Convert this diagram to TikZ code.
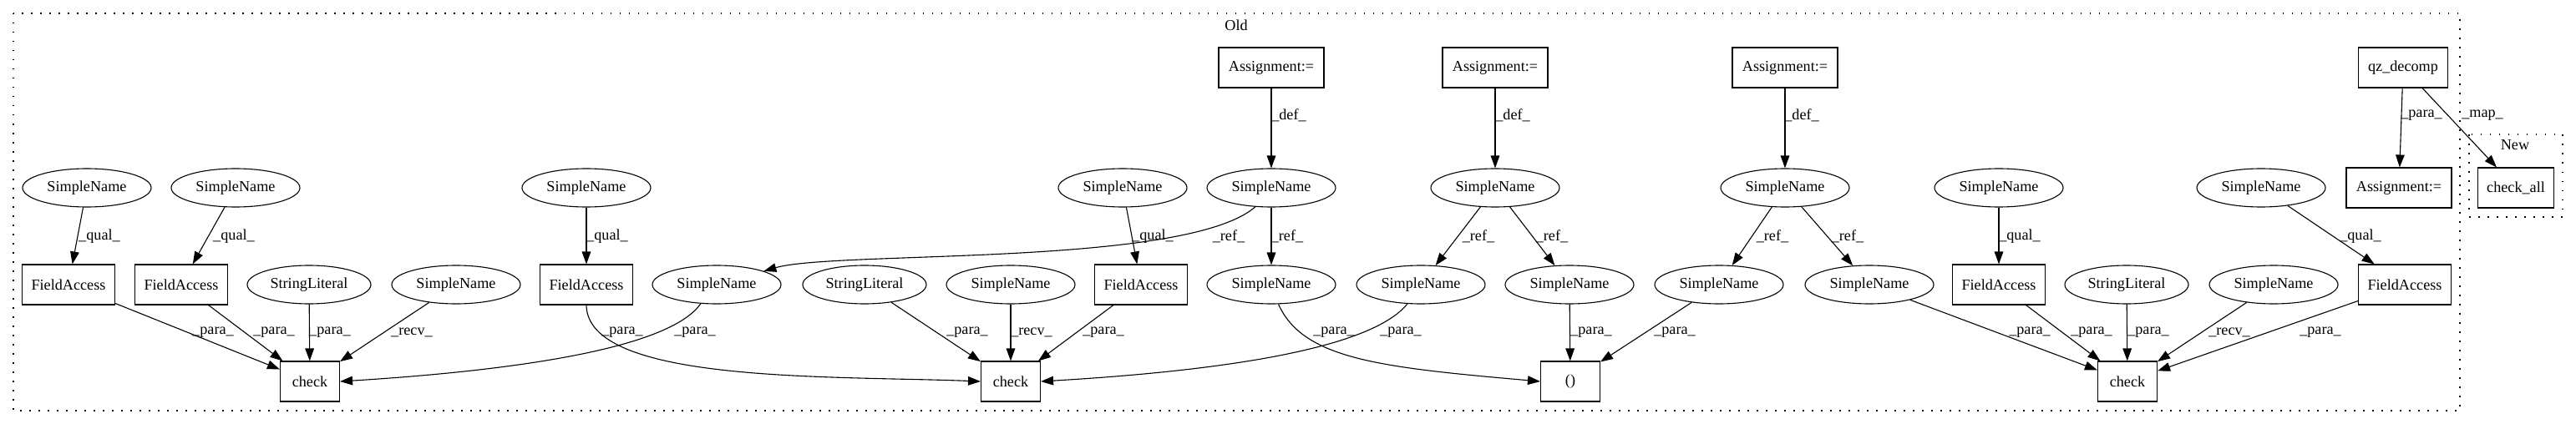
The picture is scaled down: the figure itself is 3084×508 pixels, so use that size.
\documentclass[tikz,border=0pt]{standalone}
\usepackage{fontspec}
\setmainfont{Liberation Serif}
\usetikzlibrary{shapes.geometric,arrows.meta}
\begin{document}
\begin{tikzpicture}[x=0.5pt,y=-0.5pt,
  every node/.style={font=\fontsize{9.1}{11}\selectfont},
  ell/.style={draw,ellipse,line width=0.55pt,inner sep=0pt,minimum width=77pt,minimum height=23pt},
  sl/.style={ell,minimum width=74pt},
  box/.style={draw,rectangle,line width=0.55pt,inner sep=0pt,minimum height=24pt},
  fa/.style={box,minimum width=55.5pt},
  asg/.style={box,minimum width=63pt},
  chk/.style={box,minimum width=35.5pt},
  arr/.style={-{Triangle[length=7.5pt,width=5.3pt]},line width=0.55pt},
  lbl/.style={inner sep=0pt},
  clu/.style={line width=0.75pt,dash pattern=on 0.75pt off 4.75pt}
]
\useasboundingbox (0,0) rectangle (3084,508);

% clusters
\draw[clu] (16,16) rectangle (2945,492);
\node[lbl] (oldlbl) at (1480,30) {Old};
\draw[clu] (2956,161) rectangle (3068,260);
\node[lbl] (newlbl) at (3011,174) {New};

% row 0
\node[asg] (A1) at (1522,81) {Assignment:=};
\node[asg] (A2) at (1790,81) {Assignment:=};
\node[asg] (A3) at (2137,81) {Assignment:=};
\node[box,minimum width=53.5pt] (qz) at (2877,81) {qz\_decomp};

% row 1
\node[ell] (s1) at (104,225) {SimpleName};
\node[ell] (s2) at (282,225) {SimpleName};
\node[ell] (s3) at (702,225) {SimpleName};
\node[ell] (s4) at (1344,225) {SimpleName};
\node[ell] (d1) at (1522,225) {SimpleName};
\node[ell] (d2) at (1790,225) {SimpleName};
\node[ell] (d3) at (2137,225) {SimpleName};
\node[ell] (s5) at (2393,225) {SimpleName};
\node[ell] (s6) at (2707,225) {SimpleName};
\node[asg] (A4) at (2872,225) {Assignment:=};
\node[box,minimum width=45.5pt] (ca) at (3012,225) {check\_all};

% row 2
\node[fa] (fa1) at (82,341) {FieldAccess};
\node[fa] (fa2) at (217,341) {FieldAccess};
\node[sl] (sl1) at (370,341) {StringLiteral};
\node[ell] (r1) at (546,341) {SimpleName};
\node[fa] (fa3) at (702,341) {FieldAccess};
\node[ell] (u1) at (858,341) {SimpleName};
\node[sl] (sl2) at (1035,341) {StringLiteral};
\node[ell] (r2) at (1210,341) {SimpleName};
\node[fa] (fa4) at (1366,341) {FieldAccess};
\node[ell] (u2) at (1522,341) {SimpleName};
\node[ell] (u3) at (1701,341) {SimpleName};
\node[ell] (u4) at (1879,341) {SimpleName};
\node[ell] (u5) at (2058,341) {SimpleName};
\node[ell] (u6) at (2238,341) {SimpleName};
\node[fa] (fa5) at (2393,341) {FieldAccess};
\node[sl] (sl3) at (2546,341) {StringLiteral};
\node[ell] (r3) at (2722,341) {SimpleName};
\node[fa] (fa6) at (2879,341) {FieldAccess};

% row 3
\node[chk] (c1) at (371,457) {check};
\node[chk] (c2) at (1210,457) {check};
\node[chk] (par) at (1880,457) {()};
\node[chk] (c3) at (2547,457) {check};

% edges row0 -> row1
\draw[arr] (A1) -- (d1);
\draw[arr] (A2) -- (d2);
\draw[arr] (A3) -- (d3);
\draw[arr] (qz) -- (A4);
\draw[arr] (qz) -- (ca);
\node[lbl] at (1543,138) {\_def\_};
\node[lbl] at (1811,138) {\_def\_};
\node[lbl] at (2157,138) {\_def\_};
\node[lbl] at (2899,138) {\_para\_};
\node[lbl] at (2972,138) {\_map\_};

% edges row1 -> row2
\draw[arr] (s1) -- (fa1);
\draw[arr] (s2) -- (fa2);
\draw[arr] (s3) -- (fa3);
\draw[arr] (s4) -- (fa4);
\draw[arr] (s5) -- (fa5);
\draw[arr] (s6) -- (fa6);
\draw[arr] (d1.230) .. controls (1420,320) and (1000,300) .. (u1.16);
\draw[arr] (d1) -- (u2);
\draw[arr] (d2) -- (u3);
\draw[arr] (d2) -- (u4);
\draw[arr] (d3) -- (u5);
\draw[arr] (d3) -- (u6);
\node[lbl] at (119,283) {\_qual\_};
\node[lbl] at (280,283) {\_qual\_};
\node[lbl] at (727,283) {\_qual\_};
\node[lbl] at (1380,283) {\_qual\_};
\node[lbl] at (1471,283) {\_ref\_};
\node[lbl] at (1541,283) {\_ref\_};
\node[lbl] at (1770,283) {\_ref\_};
\node[lbl] at (1858,283) {\_ref\_};
\node[lbl] at (2122,283) {\_ref\_};
\node[lbl] at (2212,283) {\_ref\_};
\node[lbl] at (2418,283) {\_qual\_};
\node[lbl] at (2826,283) {\_qual\_};

% edges row2 -> row3
\draw[arr] (fa1) -- (c1);
\draw[arr] (fa2) -- (c1);
\draw[arr] (sl1) -- (c1);
\draw[arr] (r1) -- (c1);
\draw[arr] (u1.230) .. controls (800,420) and (600,445) .. (c1.east);
\draw[arr] (fa3.south) .. controls (703,460) and (1000,450) .. (c2.west);
\draw[arr] (sl2) -- (c2);
\draw[arr] (r2) -- (c2);
\draw[arr] (fa4) -- (c2);
\draw[arr] (u3.235) .. controls (1640,420) and (1450,445) .. (c2.east);
\draw[arr] (u2.290) .. controls (1560,430) and (1650,440) .. (par.west);
\draw[arr] (u4) -- (par);
\draw[arr] (u5) -- (par);
\draw[arr] (u6) -- (c3);
\draw[arr] (fa5) -- (c3);
\draw[arr] (sl3) -- (c3);
\draw[arr] (r3) -- (c3);
\draw[arr] (fa6) -- (c3);
\node[lbl] at (255,398) {\_para\_};
\node[lbl] at (328,398) {\_para\_};
\node[lbl] at (395,398) {\_para\_};
\node[lbl] at (493,398) {\_recv\_};
\node[lbl] at (745,398) {\_para\_};
\node[lbl] at (832,398) {\_para\_};
\node[lbl] at (1158,398) {\_para\_};
\node[lbl] at (1235,398) {\_recv\_};
\node[lbl] at (1321,398) {\_para\_};
\node[lbl] at (1597,398) {\_para\_};
\node[lbl] at (1677,398) {\_para\_};
\node[lbl] at (1905,398) {\_para\_};
\node[lbl] at (2005,398) {\_para\_};
\node[lbl] at (2430,398) {\_para\_};
\node[lbl] at (2504,398) {\_para\_};
\node[lbl] at (2572,398) {\_para\_};
\node[lbl] at (2669,398) {\_recv\_};
\node[lbl] at (2778,398) {\_para\_};
\end{tikzpicture}
\end{document}
